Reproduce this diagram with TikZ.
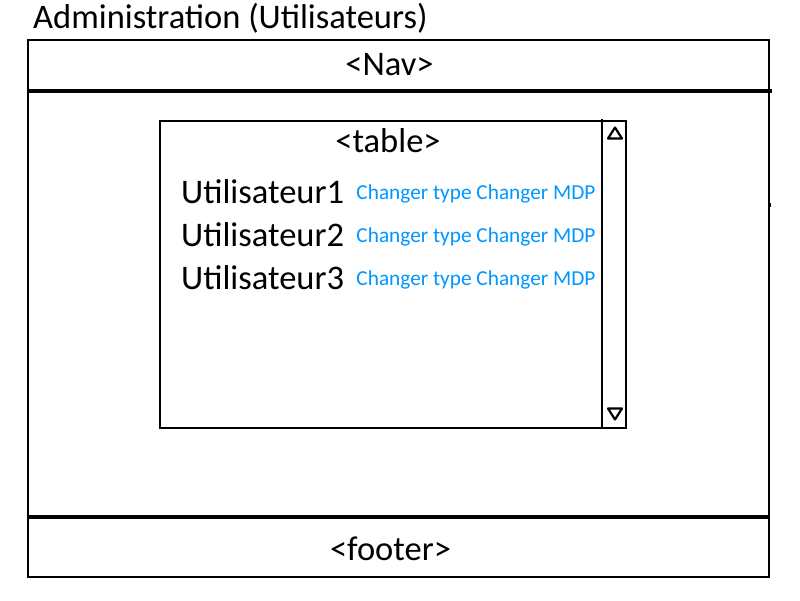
\documentclass[tikz,border=0pt]{standalone}
\usepackage{fontspec}
\setmainfont{Carlito}
\usetikzlibrary{positioning}
\definecolor{lien}{RGB}{0,150,255}

\begin{document}
\begin{tikzpicture}[
        x=1pt, y=-1pt, % 1 pt = 1 пиксель
        frame/.style = {draw, line width=2pt, inner sep=0pt}, % Рамки
        sep/.style = {line width=4.5pt}, % Толстые разделители
        label/.style = {inner sep=0pt, font=\fontsize{34.5}{40}\selectfont},
        user/.style = {inner sep=0pt, anchor=base west, font=\fontsize{34.5}{40}\selectfont},
        link/.style = {inner sep=0pt, text=lien, font=\fontsize{21.3}{25}\selectfont},
        arrowtri/.style = {line width=2.2pt, line join=round},
    ]
    \useasboundingbox (0,0) rectangle (800,600);

    \node[label, anchor=base west] (title) at (33,28) {Administration (Utilisateurs)};

    % Страница
    \node[frame, minimum width=741pt, minimum height=50pt] (nav) at (398.5,65) {};
    \node[frame, minimum width=741pt, minimum height=428pt] (body) at (398.5,304) {};
    \node[frame, minimum width=741pt, minimum height=59pt] (footer) at (398.5,547.5) {};
    \node[label] at ([xshift=-9pt]nav.center) {<Nav>};
    \node[label] at ([xshift=-8pt, yshift=-1.5pt]footer.center) {<footer>};
    \draw[sep] (nav.south west) -- ([xshift=2pt]nav.south east);
    \draw[sep] (footer.north west) -- (footer.north east);
    \draw[line width=2.5pt] (770,203) -- (770,207);

    % Таблица
    \node[frame, minimum width=466pt, minimum height=306.5pt] (table) at (393,274.3) {};
    \coordinate (sb top) at (602,119);
    \coordinate (sb bot) at (602,427);
    \draw[line width=1.5pt] (sb top) -- (sb bot);
    \node[label] at (388,141) {<table>};
    \draw[arrowtri] (608,138.5) -- (622,138.5) -- (615,127.5) -- cycle;
    \draw[arrowtri] (608,408.5) -- (622,408.5) -- (615,419.5) -- cycle;

    % Строки
    \foreach \i in {1,2,3} {
        \node[user] (u\i) at (181,160+43*\i) {Utilisateur\i};
        \node[link, base right=12pt of u\i, yshift=4pt] (l\i) {Changer type Changer MDP};
    }
\end{tikzpicture}
\end{document}
